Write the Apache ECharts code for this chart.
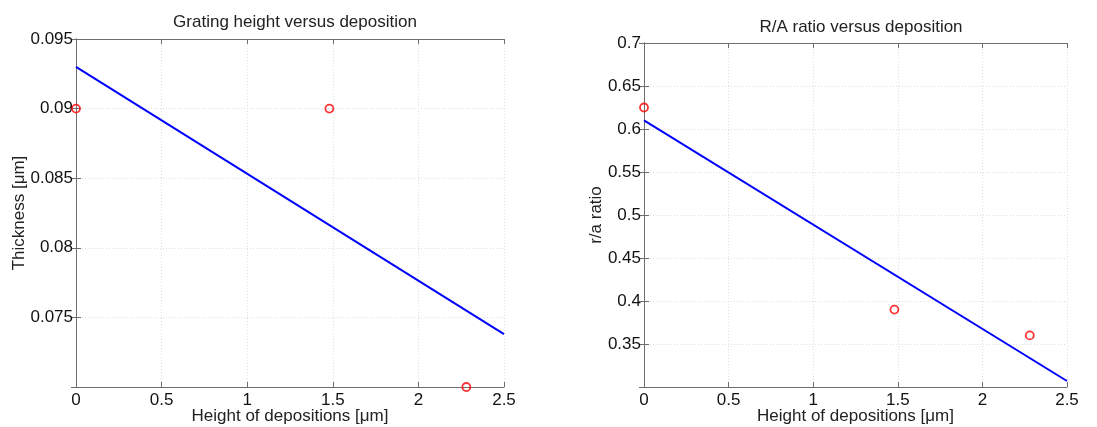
<!DOCTYPE html>
<html><head><meta charset="utf-8">
<script src="https://cdn.jsdelivr.net/npm/echarts@6/dist/echarts.min.js"></script>
<style>html,body{margin:0;padding:0;background:#fff}#c{width:1097px;height:427px}</style>
</head><body><div id="c"></div>
<script>
// Left panel: Grating height versus deposition
const depX = [0, 1.48, 2.28];
const thicknessPts = [0.090, 0.090, 0.070];
const thicknessFitX = [0, 2.5];
const thicknessFitY = [0.0930, 0.0738];
// Right panel: R/A ratio versus deposition
const ratioPts = [0.625, 0.390, 0.360];
const ratioFitX = [0, 2.5];
const ratioFitY = [0.610, 0.307];
const xTicks = [0, 0.5, 1, 1.5, 2, 2.5];

const pair = (xs, ys) => xs.map((x, i) => [x, ys[i]]);
const font = 'Liberation Sans, Arial, sans-serif';
const axisCol = '#6e6e6e';

function xAx(gi, top) {
  return {
    type: 'value', gridIndex: gi, min: 0, max: 2.5, interval: 0.5,
    position: top ? 'top' : 'bottom',
    name: top ? '' : 'Height of depositions [\u03bcm]',
    nameLocation: 'middle', nameGap: 21, nameMoveOverlap: false,
    nameTextStyle: {fontFamily: font, fontSize: 17, color: '#222'},
    axisLine: {show: true, lineStyle: {color: axisCol, width: 1}},
    axisTick: {show: true, inside: true, length: 5, lineStyle: {color: axisCol}},
    axisLabel: {show: !top, fontFamily: font, fontSize: 17, color: '#111', margin: 5,
      formatter: v => String(v)},
    splitLine: {show: !top, lineStyle: {color: '#dedede', type: [1, 2]}}
  };
}
function yAx(gi, min, max, interval, name, gap, right) {
  return {
    type: 'value', gridIndex: gi, min: min, max: max, interval: interval,
    position: right ? 'right' : 'left',
    name: right ? '' : name, nameLocation: 'middle', nameGap: gap, nameMoveOverlap: false,
    nameTextStyle: {fontFamily: font, fontSize: 17, color: '#222'},
    axisLine: {show: true, lineStyle: {color: axisCol, width: 1}},
    axisTick: {show: true, inside: true, length: 5, lineStyle: {color: axisCol}},
    axisLabel: {show: !right, showMinLabel: false, fontFamily: font, fontSize: 17, color: '#111', margin: 3,
      formatter: v => String(+v.toFixed(4))},
    splitLine: {show: !right, lineStyle: {color: '#dedede', type: [1, 2]}}
  };
}

const chart = echarts.init(document.getElementById('c'));
chart.setOption({
  animation: false,
  title: [
    {text: 'Grating height versus deposition', left: 290, top: 9, textAlign: 'center',
     textStyle: {fontFamily: font, fontSize: 17, fontWeight: 'normal', color: '#222'}},
    {text: 'R/A ratio versus deposition', left: 856, top: 14, textAlign: 'center',
     textStyle: {fontFamily: font, fontSize: 17, fontWeight: 'normal', color: '#222'}}
  ],
  grid: [
    {left: 76, top: 39, width: 428, height: 348, outerBoundsMode: 'none', containLabel: false},
    {left: 644, top: 43, width: 423, height: 344, outerBoundsMode: 'none', containLabel: false}
  ],
  xAxis: [xAx(0, false), xAx(0, true), xAx(1, false), xAx(1, true)],
  yAxis: [
    yAx(0, 0.07, 0.095, 0.005, 'Thickness [\u03bcm]', 48, false),
    yAx(0, 0.07, 0.095, 0.005, '', 0, true),
    yAx(1, 0.3, 0.7, 0.05, 'r/a ratio', 39, false),
    yAx(1, 0.3, 0.7, 0.05, '', 0, true)
  ],
  series: [
    {type: 'line', xAxisIndex: 0, yAxisIndex: 0, data: pair(thicknessFitX, thicknessFitY),
     showSymbol: false, lineStyle: {color: '#0000ff', width: 2}},
    {type: 'scatter', xAxisIndex: 0, yAxisIndex: 0, data: pair(depX, thicknessPts), clip: false,
     symbol: 'circle', symbolSize: 8, itemStyle: {color: 'rgba(0,0,0,0)', borderColor: '#ff0000', borderWidth: 1.8}},
    {type: 'line', xAxisIndex: 2, yAxisIndex: 2, data: pair(ratioFitX, ratioFitY),
     showSymbol: false, lineStyle: {color: '#0000ff', width: 2}},
    {type: 'scatter', xAxisIndex: 2, yAxisIndex: 2, data: pair(depX, ratioPts), clip: false,
     symbol: 'circle', symbolSize: 8, itemStyle: {color: 'rgba(0,0,0,0)', borderColor: '#ff0000', borderWidth: 1.8}}
  ]
});
</script></body></html>
